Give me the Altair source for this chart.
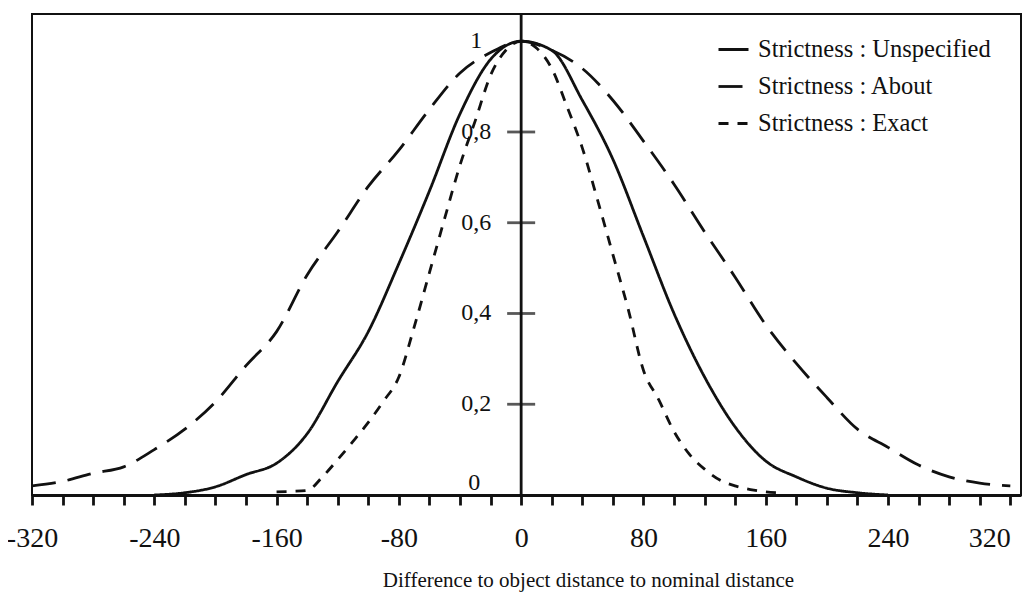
import altair as alt
import pandas as pd

# ---------------- data ----------------
series_names = ["Strictness : Unspecified", "Strictness : About", "Strictness : Exact"]

unspec_x = [-240, -220, -200, -180, -160, -140, -120, -100, -80, -60, -40, -20, 0,
            20, 40, 60, 80, 100, 120, 140, 160, 180, 200, 220, 240]
unspec_y = [0.0, 0.005, 0.018, 0.045, 0.07, 0.135, 0.25, 0.36, 0.51, 0.67, 0.84, 0.96, 1.0,
            0.98, 0.87, 0.74, 0.57, 0.40, 0.26, 0.15, 0.075, 0.04, 0.015, 0.005, 0.0]

about_x = [-320, -300, -280, -260, -240, -220, -200, -180, -160, -140, -120, -100, -80, -60, -40, -20, 0,
           20, 40, 60, 80, 100, 120, 140, 160, 180, 200, 220, 240, 260, 280, 300, 320]
about_y = [0.02, 0.03, 0.048, 0.062, 0.10, 0.145, 0.205, 0.285, 0.36, 0.485, 0.58, 0.68, 0.76, 0.85, 0.93, 0.975, 1.0,
           0.98, 0.94, 0.87, 0.78, 0.685, 0.58, 0.48, 0.375, 0.29, 0.215, 0.145, 0.105, 0.066, 0.04, 0.026, 0.02]

exact_x = [-160, -150, -140, -130, -120, -110, -100, -90, -80, -70, -60, -50, -40, -30, -20, -10, 0,
           10, 20, 30, 40, 50, 60, 70, 80, 90, 100, 110, 120, 130, 140, 150, 160, 170]
exact_y = [0.007, 0.008, 0.01, 0.04, 0.078, 0.118, 0.16, 0.207, 0.26, 0.37, 0.49, 0.61, 0.727, 0.825, 0.925, 0.98, 1.0,
           0.985, 0.94, 0.856, 0.765, 0.65, 0.53, 0.41, 0.275, 0.21, 0.14, 0.09, 0.057, 0.033, 0.02, 0.012, 0.007, 0.005]

x_tick_values = list(range(-320, 321, 20))
y_tick_values = [0.2, 0.4, 0.6, 0.8]
y_tick_labels = ["0,2", "0,4", "0,6", "0,8", "1"]
y_label_values = [0.2, 0.4, 0.6, 0.8, 1.0]
x_title = "Difference to object distance to nominal distance"

# ---------------- tables ----------------
rows = []
for name, xs, ys in zip(series_names, [unspec_x, about_x, exact_x], [unspec_y, about_y, exact_y]):
    for x, y in zip(xs, ys):
        rows.append({"d": x, "v": y, "s": name})
df = pd.DataFrame(rows)
ticks_df = pd.DataFrame({"d": [0] * len(y_tick_values), "v": y_tick_values})
labels_df = pd.DataFrame({"d": [0] * len(y_label_values), "v": y_label_values, "t": y_tick_labels})
zero_df = pd.DataFrame({"d": [0], "v": [0.0], "t": ["0"]})
axis_df = pd.DataFrame({"d": [0]})

FONT = "Liberation Serif"
INK = "#111111"
LW = 2.8

xscale = alt.Scale(domain=[-320, 327], nice=False, zero=False)
yscale = alt.Scale(domain=[0, 1.06], nice=False, zero=False)

x_axis = alt.Axis(
    values=x_tick_values,
    labelExpr="datum.value % 80 === 0 ? '' + datum.value : ''",
    labelAlign=alt.expr("datum.value >= 320 ? 'right' : 'center'"),
    title=x_title,
    grid=False,
    domainColor=INK, domainWidth=LW,
    tickColor=INK, tickWidth=LW, tickSize=10,
    labelFont=FONT, labelFontSize=28, labelColor=INK, labelPadding=19,
    labelFlush=False, labelOverlap=False,
    titleFont=FONT, titleFontSize=21, titleFontWeight="normal", titleColor=INK,
    titleX=556, titleY=85, titleAlign="center", titleBaseline="middle",
)
X = alt.X("d:Q", scale=xscale, axis=x_axis)
Y = alt.Y("v:Q", scale=yscale, axis=None)

lines = alt.Chart(df).mark_line(
    strokeWidth=LW, color=INK, clip=True, interpolate="monotone"
).encode(
    x=X, y=Y,
    strokeDash=alt.StrokeDash(
        "s:N",
        scale=alt.Scale(domain=series_names, range=[[1, 0], [24, 12], [10, 9]]),
        sort=series_names,
        legend=alt.Legend(
            title=None, orient="none", legendX=685, legendY=19,
            symbolType="stroke", symbolSize=900, symbolStrokeWidth=LW,
            symbolStrokeColor=INK, symbolFillColor=INK,
            labelFont=FONT, labelFontSize=24.5, labelColor=INK,
            labelOffset=8, labelLimit=400, rowPadding=9, padding=0,
        ),
    ),
)

y_rule = alt.Chart(axis_df).mark_rule(color=INK, strokeWidth=LW).encode(x=X)

y_ticks = alt.Chart(ticks_df).mark_tick(
    orient="horizontal", size=28, thickness=LW, color=INK
).encode(x=X, y=Y)

y_labels = alt.Chart(labels_df).mark_text(
    font=FONT, fontSize=24, color=INK, align="center", baseline="middle", dx=-45
).encode(x=X, y=Y, text="t:N")

zero_label = alt.Chart(zero_df).mark_text(
    font=FONT, fontSize=24, color=INK, align="center", baseline="middle", dx=-47, dy=-12
).encode(x=X, y=Y, text="t:N")

chart = alt.layer(lines, y_rule, y_ticks, y_labels, zero_label).properties(
    width=989, height=481,
    autosize=alt.AutoSizeParams(type="none"),
    padding={"left": 24, "top": 6, "right": 2, "bottom": 100},
    background="white",
).configure_view(stroke=INK, strokeWidth=2)

chart.save("out.html", embed_options={"renderer": "svg", "actions": False})
